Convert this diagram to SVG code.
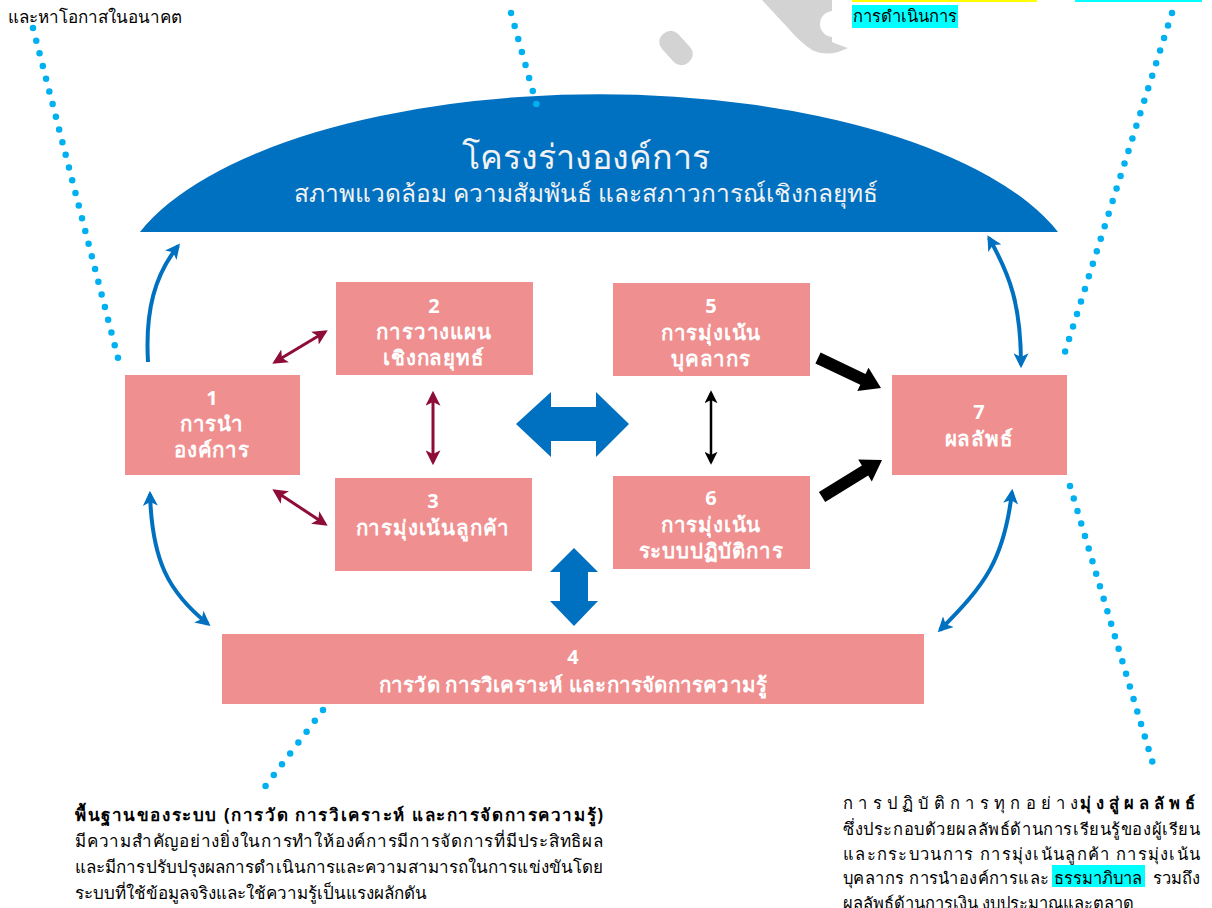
<svg xmlns="http://www.w3.org/2000/svg" width="1212" height="908" viewBox="0 0 1212 908">
<style>
  text { font-family: "Noto Sans", "Liberation Sans", sans-serif; }
  .box { fill: #EF8F8F; }
  .bt { fill: #FFFFFF; font-weight: bold; font-size: 20.5px; letter-spacing: 0.8px; text-anchor: middle; }
  .bn { fill: #FFFFFF; font-weight: bold; font-size: 20px; text-anchor: middle; }
  .dots { fill: none; stroke: #00B0F0; stroke-width: 6.5; stroke-linecap: round; }
  .blue { fill: none; stroke: #0070C0; stroke-width: 4; }
  .red { fill: none; stroke: #8E0C38; stroke-width: 3; }
  .blk { fill: none; stroke: #000000; stroke-width: 2.5; }
  .note { fill: #000000; font-size: 17px; }
  .noter { fill: #000000; font-size: 16.5px; }
</style>
<defs>
  <marker id="mb" viewBox="0 0 14 14" markerWidth="15" markerHeight="15" refX="11" refY="7" orient="auto-start-reverse" markerUnits="userSpaceOnUse">
    <path d="M0,0 L14,7 L0,14 L3.5,7 Z" fill="#0070C0"/>
  </marker>
  <marker id="mr" viewBox="0 0 14 14" markerWidth="15" markerHeight="15" refX="11" refY="7" orient="auto-start-reverse" markerUnits="userSpaceOnUse">
    <path d="M0,0 L14,7 L0,14 L3.5,7 Z" fill="#8E0C38"/>
  </marker>
  <marker id="mk" viewBox="0 0 14 14" markerWidth="13" markerHeight="13" refX="11" refY="7" orient="auto-start-reverse" markerUnits="userSpaceOnUse">
    <path d="M0,0 L14,7 L0,14 L3.5,7 Z" fill="#000000"/>
  </marker>
</defs>
<rect width="1212" height="908" fill="#FFFFFF"/>

<!-- gray watermark -->
<g id="watermark" fill="#D3D3D3">
  <rect x="665" y="29" width="22" height="38" rx="10" transform="rotate(-42 676 48)"/>
  <path d="M762,0 L832,0 L832,42 Q842,46 848,48 Q828,58 812,50 Q800,42 788,28 Z"/>
  <circle cx="833" cy="24" r="13" fill="#FFFFFF"/>
</g>

<!-- top text fragments -->
<g id="top-left-note">
  <text class="note" x="8" y="23" font-size="16.8">และหาโอกาสในอนาคต</text>
</g>
<g id="top-right-note">
  <rect x="852" y="-20" width="185" height="22" fill="#FFFF00"/>
  <rect x="1075" y="-20" width="127" height="22" fill="#00FFFF"/>
  <rect x="852" y="5" width="106" height="23" fill="#00FFFF"/>
  <text class="noter" x="853" y="22" font-size="16">การดำเนินการ</text>
</g>

<!-- dome -->
<g id="dome">
  <path d="M140,232 A483,200 0 0 1 1058,232 Z" fill="#0070C0"/>
  <text x="586" y="169" fill="#F2F2F2" font-size="34" text-anchor="middle">โครงร่างองค์การ</text>
  <text x="586" y="202" fill="#F2F2F2" font-size="24.5" text-anchor="middle">สภาพแวดล้อม ความสัมพันธ์ และสภาวการณ์เชิงกลยุทธ์</text>
</g>

<!-- dotted callout lines -->
<g id="callouts">
  <line class="dots" x1="33" y1="28" x2="118" y2="358" stroke-dasharray="0 13.1"/>
  <line class="dots" x1="511" y1="13" x2="540" y2="117" stroke-dasharray="0 13.5"/>
  <line class="dots" x1="1172" y1="13" x2="1065" y2="352" stroke-dasharray="0 13.15"/>
  <line class="dots" x1="1070" y1="486" x2="1156" y2="774" stroke-dasharray="0 13.07"/>
  <line class="dots" x1="323" y1="710" x2="264" y2="788" stroke-dasharray="0 13.6"/>
</g>

<!-- nodes -->
<g id="node1">
  <rect class="box" x="125" y="375" width="175" height="100"/>
  <text class="bn" x="212" y="405">1</text>
  <text class="bt" x="212" y="431">การนำ</text>
  <text class="bt" x="212" y="457">องค์การ</text>
</g>
<g id="node2">
  <rect class="box" x="336" y="282" width="197" height="93"/>
  <text class="bn" x="434" y="313">2</text>
  <text class="bt" x="434" y="339">การวางแผน</text>
  <text class="bt" x="434" y="365">เชิงกลยุทธ์</text>
</g>
<g id="node3">
  <rect class="box" x="335" y="478" width="197" height="93"/>
  <text class="bn" x="433" y="508">3</text>
  <text class="bt" x="433" y="535">การมุ่งเน้นลูกค้า</text>
</g>
<g id="node5">
  <rect class="box" x="613" y="283" width="197" height="93"/>
  <text class="bn" x="711" y="313">5</text>
  <text class="bt" x="711" y="340">การมุ่งเน้น</text>
  <text class="bt" x="711" y="366">บุคลากร</text>
</g>
<g id="node6">
  <rect class="box" x="613" y="476" width="197" height="93"/>
  <text class="bn" x="711" y="505">6</text>
  <text class="bt" x="711" y="532">การมุ่งเน้น</text>
  <text class="bt" x="711" y="558">ระบบปฏิบัติการ</text>
</g>
<g id="node7">
  <rect class="box" x="892" y="375" width="175" height="100"/>
  <text class="bn" x="979" y="419">7</text>
  <text class="bt" x="979" y="446">ผลลัพธ์</text>
</g>
<g id="node4">
  <rect class="box" x="222" y="634" width="702" height="70"/>
  <text class="bn" x="573" y="664">4</text>
  <text class="bt" x="573" y="692" style="letter-spacing:0.2px">การวัด การวิเคราะห์ และการจัดการความรู้</text>
</g>

<!-- connectors -->
<g id="connectors">
  <path class="blue" d="M148,362 C145,310 155,275 178,246" marker-end="url(#mb)"/>
  <path class="blue" d="M989,238 C1010,275 1021,305 1021,365" marker-start="url(#mb)" marker-end="url(#mb)"/>
  <path class="blue" d="M150,494 C152,560 168,592 208,624" marker-start="url(#mb)" marker-end="url(#mb)"/>
  <path class="blue" d="M1012,492 C1004,560 985,585 940,630" marker-start="url(#mb)" marker-end="url(#mb)"/>
  <line class="red" x1="275" y1="362" x2="325" y2="332" marker-start="url(#mr)" marker-end="url(#mr)"/>
  <line class="red" x1="275" y1="491" x2="325" y2="524" marker-start="url(#mr)" marker-end="url(#mr)"/>
  <line class="red" x1="433" y1="394" x2="433" y2="462" marker-start="url(#mr)" marker-end="url(#mr)"/>
  <line class="blk" x1="711" y1="393" x2="711" y2="462" marker-start="url(#mk)" marker-end="url(#mk)"/>
  <polygon fill="#0070C0" points="516,424 551,392 551,407 596,407 596,392 629,424 596,457 596,441 551,441 551,457"/>
  <polygon fill="#0070C0" points="574,548 598,572 588,572 588,601 598,601 574,626 550,601 560,601 560,572 550,572"/>
  <polygon fill="#000000" points="820.6,352.6 865.5,374.0 868.5,367.7 881,388 857.3,391.1 860.3,384.8 815.4,363.4"/>
  <polygon fill="#000000" points="818.9,491.9 861.9,465.4 858.2,459.4 882,460 871.8,481.6 868.2,475.6 825.2,502.1"/>
</g>

<!-- bottom notes -->
<g id="bottom-left-note">
  <text class="note" x="75" y="821" font-weight="bold" textLength="528" lengthAdjust="spacing">พื้นฐานของระบบ (การวัด การวิเคราะห์ และการจัดการความรู้)</text>
  <text class="note" x="75" y="847" textLength="528" lengthAdjust="spacing">มีความสำคัญอย่างยิ่งในการทำให้องค์การมีการจัดการที่มีประสิทธิผล</text>
  <text class="note" x="75" y="873" textLength="528" lengthAdjust="spacing">และมีการปรับปรุงผลการดำเนินการและความสามารถในการแข่งขันโดย</text>
  <text class="note" x="75" y="899">ระบบที่ใช้ข้อมูลจริงและใช้ความรู้เป็นแรงผลักดัน</text>
</g>
<g id="bottom-right-note">
  <text class="noter" x="843" y="809" letter-spacing="5.3">การปฏิบัติการทุกอย่าง</text>
  <text class="noter" x="1080" y="809" font-weight="bold" letter-spacing="5">มุ่งสู่ผลลัพธ์</text>
  <text class="noter" x="843" y="835" textLength="357" lengthAdjust="spacing">ซึ่งประกอบด้วยผลลัพธ์ด้านการเรียนรู้ของผู้เรียน</text>
  <text class="noter" x="843" y="860" textLength="357" lengthAdjust="spacing">และกระบวนการ การมุ่งเน้นลูกค้า การมุ่งเน้น</text>
  <rect x="1052" y="865" width="93" height="22" fill="#00FFFF"/>
  <text class="noter" x="843" y="884" textLength="206" lengthAdjust="spacing">บุคลากร การนำองค์การและ</text>
  <text class="noter" x="1054" y="884">ธรรมาภิบาล</text>
  <text class="noter" x="1200" y="884" text-anchor="end">รวมถึง</text>
  <text class="noter" x="843" y="909">ผลลัพธ์ด้านการเงิน งบประมาณและตลาด</text>
</g>
</svg>
